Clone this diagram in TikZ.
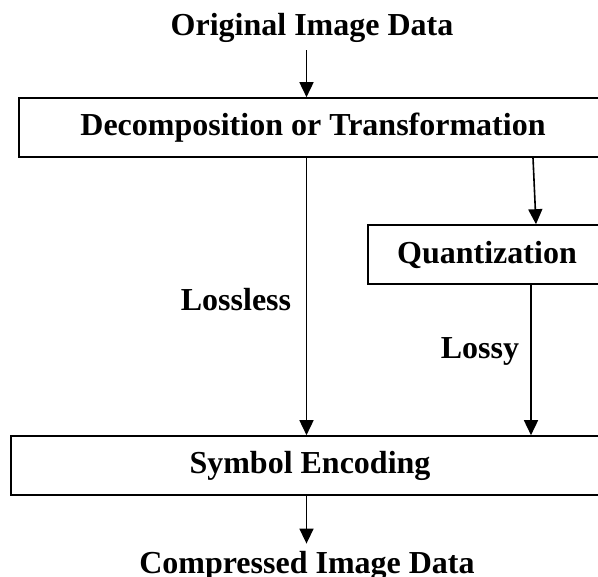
\documentclass[tikz,border=0pt]{standalone}
\usepackage{fontspec}
\setmainfont{Liberation Serif}
\usetikzlibrary{arrows.meta}
\tikzset{
  boxnode/.style={draw, line width=1.6pt, rectangle, inner sep=0pt, font=\fontsize{32}{32}\selectfont\bfseries},
  labnode/.style={inner sep=2pt, anchor=base, font=\fontsize{32}{32}\selectfont\bfseries},
  arr/.style={line width=1.6pt, -{Triangle[length=15pt,width=14pt]}}
}
\begin{document}
\begin{tikzpicture}[x=1pt,y=-1pt]
\useasboundingbox (0,0) rectangle (598,577);
\clip (0,0) rectangle (598,577);
% boxes
\node[boxnode, minimum width=588pt, minimum height=59pt] (dec) at (313,127.5) {Decomposition or Transformation};
\node[boxnode, minimum width=238pt, minimum height=59pt] (quant) at (487,254.5) {Quantization};
\node[boxnode, minimum width=598pt, minimum height=59pt] (sym) at (310,465.5) {Symbol Encoding};
% labels
\node[labnode] (orig) at (312,36) {Original Image Data};
\node[labnode] (comp) at (307,574) {Compressed Image Data};
\node[labnode] (lossless) at (236,311) {Lossless};
\node[labnode] (lossy) at (480,359) {Lossy};
% helper x positions
\coordinate (cx) at (306.5,0);
\coordinate (qa) at (533,0);
\coordinate (qb) at (536,0);
\coordinate (ql) at (531,0);
% connectors
\draw[arr, shorten <=5pt] (orig.south -| cx) -- (dec.north -| cx);
\draw[arr] (dec.south -| cx) -- (sym.north -| cx);
\draw[arr] (dec.south -| qa) -- (quant.north -| qb);
\draw[arr] (quant.south -| ql) -- (sym.north -| ql);
\draw[arr, shorten >=6pt] (sym.south -| cx) -- (comp.north -| cx);
\end{tikzpicture}
\end{document}
